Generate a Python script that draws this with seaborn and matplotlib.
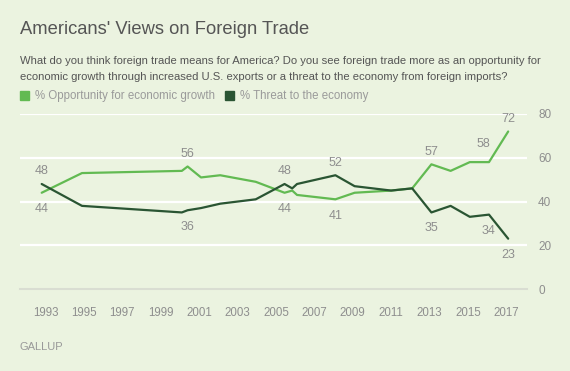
import numpy as np
import pandas as pd
import matplotlib
matplotlib.use("Agg")
import matplotlib.pyplot as plt
from matplotlib.patches import Rectangle
import seaborn as sns

# survey dates (fractional years) and percentages
years = [1992.8, 1994.9, 2000.1, 2000.4, 2001.1, 2002.1, 2003.95, 2005.45, 2005.85,
         2006.1, 2008.1, 2009.1, 2011.0, 2012.1, 2013.1, 2014.1, 2015.1, 2016.1, 2017.1]
opportunity = [44, 53, 54, 56, 51, 52, 49, 44, 45, 43, 41, 44, 45, 46, 57, 54, 58, 58, 72]
threat = [48, 38, 35, 36, 37, 39, 41, 48, 46, 48, 52, 47, 45, 46, 35, 38, 33, 34, 23]

series_names = ["% Opportunity for economic growth", "% Threat to the economy"]
tick_years = list(range(1993, 2018, 2))
y_ticks = [0, 20, 40, 60, 80]

# labelled points: (series index, point index, dx, dy) offsets in points
labels = [(1, 0, 0, 9), (0, 0, 0, -12),
          (0, 3, 0, 9), (1, 3, 0, -12),
          (1, 7, 0, 9), (0, 7, 0, -12),
          (1, 10, 0, 9), (0, 10, 0, -12),
          (0, 14, 0, 9), (1, 14, 0, -11),
          (0, 17, -4, 13), (1, 17, 0, -12),
          (0, 18, 0, 9), (1, 18, 0, -12)]

bg = "#ebf3e0"
light = "#62ba52"
dark = "#2a5533"
grey = "#8e8e8e"

df = pd.DataFrame({
    "year": years * 2,
    "value": opportunity + threat,
    "series": [series_names[0]] * len(years) + [series_names[1]] * len(years),
})

sns.set_style("white")
plt.rcParams["font.family"] = ["Liberation Sans", "DejaVu Sans"]

fig = plt.figure(figsize=(5.7, 3.71), dpi=100, facecolor=bg)
ax = fig.add_axes([20 / 570, 82 / 371, 507 / 570, 175 / 371], facecolor=bg)

for y in y_ticks[1:]:
    ax.axhline(y, color="white", lw=1.6, zorder=0)

sns.lineplot(data=df, x="year", y="value", hue="series", palette=[light, dark],
             lw=1.6, ax=ax, legend=False, zorder=3)

vals = [opportunity, threat]
for s, i, dx, dy in labels:
    ax.annotate(str(vals[s][i]), (years[i], vals[s][i]), xytext=(dx, dy),
                textcoords="offset points", ha="center", va="center",
                fontsize=9, color=grey)

ax.set_xlim(1991.67, 2018.08)
ax.set_ylim(0, 80)
ax.set_xticks(tick_years)
ax.set_yticks(y_ticks)
ax.yaxis.tick_right()
ax.tick_params(axis="y", length=0, pad=8, labelsize=8.5, labelcolor=grey)
ax.tick_params(axis="x", length=6, width=0.8, color="#d9ddd2", pad=7,
               labelsize=8.3, labelcolor=grey, direction="out")
ax.set_xlabel("")
ax.set_ylabel("")
for side in ["top", "right", "left"]:
    ax.spines[side].set_visible(False)
ax.spines["bottom"].set_color("#d9ddd2")
ax.spines["bottom"].set_linewidth(1.5)

fig.text(20 / 570, 1 - 30 / 371, "Americans' Views on Foreign Trade", fontsize=13.2,
         color="#555555", va="center", ha="left")
fig.text(20 / 570, 1 - 61 / 371,
         "What do you think foreign trade means for America? Do you see foreign trade more as an opportunity for",
         fontsize=8.1, color="#555555", va="center", ha="left")
fig.text(20 / 570, 1 - 77 / 371,
         "economic growth through increased U.S. exports or a threat to the economy from foreign imports?",
         fontsize=8.1, color="#555555", va="center", ha="left")

# legend
for x0, tx, name, c in [(20, 35, series_names[0], light), (225, 240, series_names[1], dark)]:
    fig.add_artist(Rectangle((x0 / 570, 1 - 100 / 371), 9 / 570, 9 / 371,
                             transform=fig.transFigure, color=c))
    fig.text(tx / 570, 1 - 95.5 / 371, name, fontsize=8.3, color="#9a9a9a",
             va="center", ha="left")

fig.text(20 / 570, 1 - 346.5 / 371, "GALLUP", fontsize=8, color="#999999",
         va="center", ha="left")

fig.savefig("out.png", dpi=100, facecolor=bg)
